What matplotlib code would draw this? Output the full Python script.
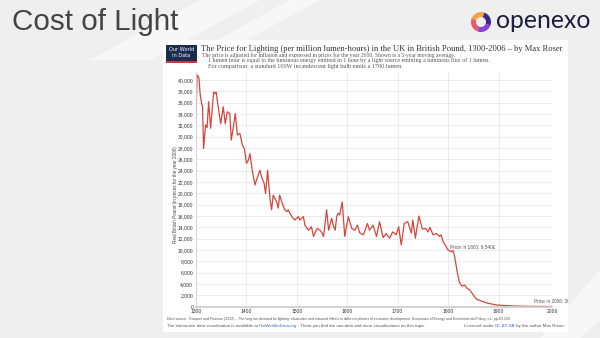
import matplotlib
matplotlib.use('Agg')

import matplotlib.pyplot as plt
from matplotlib.patches import Rectangle, Polygon, Wedge
from matplotlib.ticker import FuncFormatter

W, H = 600, 338
DPI = 100

# price per million lumen-hours, GBP (year 2000 prices)
years = [1300, 1302, 1304, 1306, 1308, 1311, 1313, 1315, 1319, 1322, 1325, 1329,
         1335, 1338, 1340, 1343, 1349, 1354, 1358, 1362, 1367, 1370, 1375, 1378,
         1382, 1387, 1392, 1396, 1400, 1404, 1407, 1412, 1417, 1420, 1427, 1430,
         1435, 1438, 1442, 1447, 1450, 1453, 1460, 1463, 1466, 1470, 1476, 1480,
         1483, 1490, 1496, 1503, 1506, 1513, 1516, 1523, 1529, 1533, 1540, 1546,
         1550, 1553, 1559, 1563, 1569, 1573, 1576, 1579, 1582, 1585, 1590, 1595,
         1602, 1609, 1615, 1620, 1625, 1632, 1640, 1644, 1651, 1658, 1664, 1671,
         1677, 1684, 1690, 1697, 1702, 1707, 1713, 1720, 1727, 1730, 1735, 1742,
         1749, 1756, 1760, 1764, 1770, 1777, 1783, 1786, 1790, 1796, 1800, 1806,
         1810, 1813, 1818, 1822, 1827, 1833, 1838, 1843, 1850, 1856, 1866, 1879,
         1896, 1929, 1960, 2006]
price = [33200, 40900, 40700, 40300, 37700, 35900, 35300, 27900, 32100, 31600, 36200, 31500,
         37900, 37600, 37900, 35900, 32300, 35300, 32300, 34400, 34100, 29400, 32300, 34100,
         30300, 30600, 28500, 27900, 25300, 25900, 27000, 23800, 21500, 22400, 24100, 22900,
         21800, 20000, 24100, 18800, 17100, 19700, 18500, 17400, 19700, 18500, 17100, 16800,
         17100, 15900, 15300, 15900, 15300, 15900, 14400, 13500, 14100, 12400, 13800, 13500,
         13000, 12400, 17100, 13500, 15600, 14100, 13500, 15900, 16500, 16200, 18500, 12400,
         15900, 13800, 13500, 14400, 13000, 12700, 14700, 13500, 14400, 12400, 15000, 12200,
         12900, 12100, 13200, 12700, 14100, 10900, 14700, 15000, 13000, 15300, 12100, 16000,
         13700, 13800, 13200, 14000, 12700, 12900, 12400, 12700, 11500, 10600, 10000, 9700,
         9900, 8800, 6200, 4400, 3650, 3800, 3200, 2950, 2050, 1350, 1000, 600,
         300, 120, 60, 30]

xticks = [1300, 1400, 1500, 1600, 1700, 1800, 1900, 2006]
yticks = list(range(0, 40001, 2000))

title = ('The Price for Lighting (per million lumen-hours) in the UK in British Pound, '
         '1300-2006 \u2013 by Max Roser')
sub1 = ('The price is adjusted for inflation and expressed in prices for the year 2000. '
        'Shown is a 5-year moving average.')
sub2 = ('1 lumen hour is equal to the luminous energy emitted in 1 hour by a light source '
        'emitting a luminous flux of 1 lumen.')
sub3 = 'For comparison: a standard 100W incandescent light bulb emits a 1700 lumen.'

fig = plt.figure(figsize=(W / DPI, H / DPI), dpi=DPI)
fig.patch.set_facecolor('#efefef')
r = fig.canvas.get_renderer()


def fit(t, width):
    # scale a text so that it spans the given width in pixels
    w = t.get_window_extent(r).width
    t.set_fontsize(t.get_fontsize() * width / w)


def run(a, x, y, parts, width):
    # several coloured pieces of text on one line, scaled to a total width
    ts = [a.text(x, y, s, fontsize=3, color=c, va='center', family='Liberation Sans')
          for s, c in parts]
    k = width / sum(t.get_window_extent(r).width for t in ts)
    for t in ts:
        t.set_fontsize(3 * k)
        t.set_x(x)
        x += t.get_window_extent(r).width


# slide background in pixel coordinates
bg = fig.add_axes([0, 0, 1, 1])
bg.set_xlim(0, W)
bg.set_ylim(H, 0)
bg.axis('off')
for pts in [[(90, 60), (200, 0), (260, 0), (150, 60)],
            [(180, 60), (290, 0), (320, 0), (210, 60)],
            [(540, 338), (600, 270), (600, 320), (580, 338)]]:
    bg.add_patch(Polygon(pts, closed=True, color='white', alpha=0.5, lw=0))

t = bg.text(12, 22, 'Cost of Light', fontsize=21, color='#444444', va='center',
            family='Liberation Sans')
fit(t, 166)

# openexo logo
for a1, a2, c in [(200, 290, '#f4a340'), (110, 200, '#ea5a6a'),
                  (20, 110, '#8a3fd9'), (290, 380, '#3a2a8c')]:
    bg.add_patch(Wedge((481, 22), 10, a1, a2, width=5, color=c, lw=0))
t = bg.text(496, 21, 'openexo', fontsize=15, color='#1c1f3f', va='center',
            family='Lato')
fit(t, 94)

# white chart panel
panel = fig.add_axes([163 / W, 1 - 332 / H, 405 / W, 292 / H])
panel.set_xlim(163, 568)
panel.set_ylim(332, 40)
panel.set_xticks([])
panel.set_yticks([])
for s in panel.spines.values():
    s.set_visible(False)
panel.set_facecolor('white')

# Our World in Data badge
panel.add_patch(Rectangle((166, 45), 31, 18, color='#1a2c50', lw=0))
panel.add_patch(Rectangle((166, 61), 31, 2, color='#c8383a', lw=0))
panel.text(181.5, 49.5, 'Our World', fontsize=3.6, color='white', ha='center', va='center')
panel.text(181.5, 55.5, 'in Data', fontsize=3.6, color='white', ha='center', va='center')

t = panel.text(201, 49, title, fontsize=6, color='#333333', va='center', family='Liberation Serif')
fit(t, 364)
t = panel.text(202, 55, sub1, fontsize=3, color='#555555', va='center', family='Liberation Serif')
fit(t, 251)
t = panel.text(208, 60.5, sub2, fontsize=3, color='#555555', va='center', family='Liberation Serif')
fit(t, 272)
t = panel.text(208, 66, sub3, fontsize=3, color='#555555', va='center', family='Liberation Serif')
fit(t, 188)

panel.text(175, 195, 'Real British Pound (in prices for the year 2000)', fontsize=3.3,
           color='#444444', rotation=90, ha='center', va='center', family='Liberation Sans')

t = panel.text(534, 301, 'Price in 2006: 30\u00a3', fontsize=3.4, color='#555555',
               va='center', family='Liberation Sans', clip_on=True)

run(panel, 167, 318.5,
    [('Data source:  Fouquet and Pearson (2012) \u2013 The long run demand for lighting: '
      'elasticities and rebound effects in different phases of economic development. '
      'Economics of Energy and Environmental Policy, v.1, pp.83-100.', '#555555')], 333)
run(panel, 167, 326,
    [('The interactive data visualisation is available at ', '#555555'),
     ('OurWorldinData.org', '#3366bb'),
     ('. There you find the raw data and more visualisations on this topic.', '#555555')], 259)
run(panel, 464, 326,
    [('Licensed under ', '#555555'), ('CC-BY-SA', '#3366bb'),
     (' by the author Max Roser.', '#555555')], 101)

# the chart itself
ax = fig.add_axes([196 / W, 1 - 306.7 / H, 356 / W, (306.7 - 71.6) / H])
ax.patch.set_alpha(0)
ax.plot(years, price, color='#d6453d', lw=0.9, solid_joinstyle='round')
ax.set_xlim(1300, 2006)
ax.set_ylim(0, 41500)
ax.set_xticks(xticks)
ax.set_yticks(yticks)
ax.yaxis.set_major_formatter(FuncFormatter(lambda v, p: '{:,}'.format(int(v))))
ax.grid(True, color='#e8e8e8', lw=0.6)
ax.set_axisbelow(True)
for k in ['top', 'right']:
    ax.spines[k].set_visible(False)
ax.spines['left'].set_color('#d0d0d0')
ax.spines['bottom'].set_color('#cccccc')
ax.spines['bottom'].set_linewidth(1.2)
ax.spines['left'].set_linewidth(0.6)
ax.tick_params(length=0, labelsize=3.6, colors='#333333', pad=2)
for lab in ax.get_xticklabels() + ax.get_yticklabels():
    lab.set_family('Liberation Sans')

ax.text(1804, 10500, 'Price in 1800: 9,540\u00a3', fontsize=3.4, color='#555555',
        va='center', family='Liberation Sans')

fig.savefig('out.png', dpi=DPI, facecolor=fig.get_facecolor())
